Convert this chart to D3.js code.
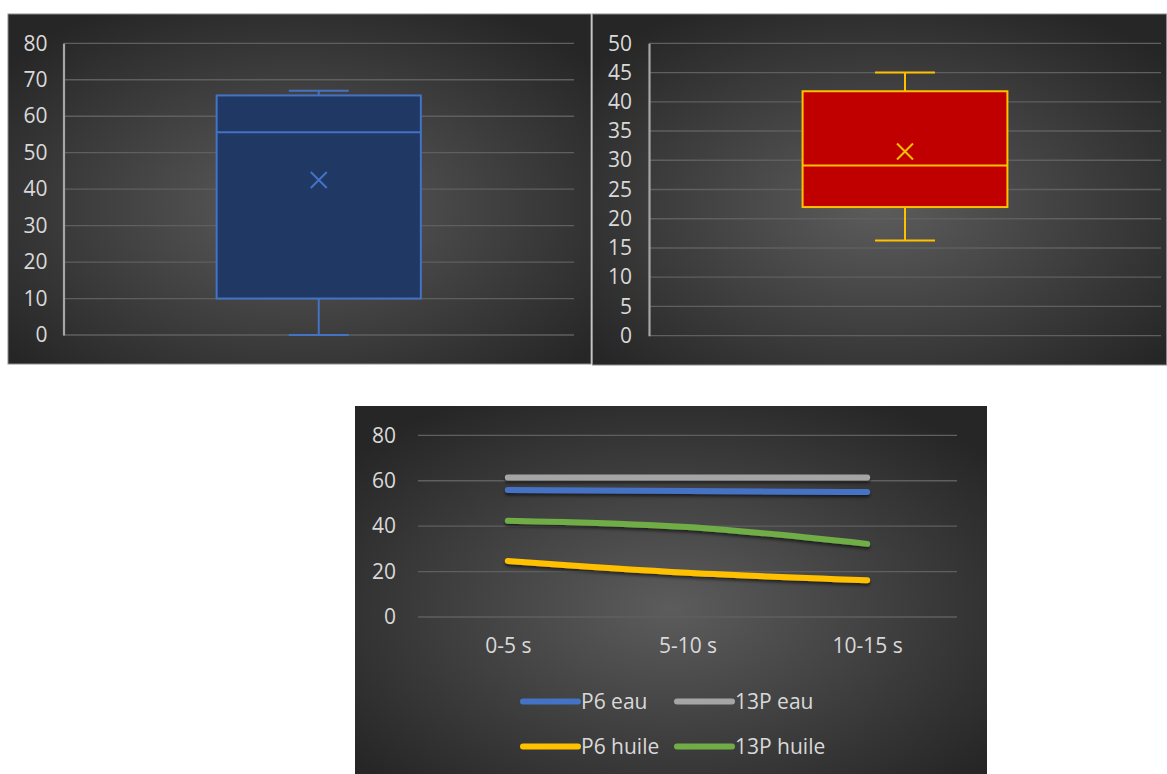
<!DOCTYPE html>
<html>
<head>
<meta charset="utf-8">
<script src="https://cdn.jsdelivr.net/npm/d3@7"></script>
<style>
  html, body { margin: 0; padding: 0; background: #ffffff; }
  svg { display: block; }
  text { font-family: "Open Sans", "Noto Sans", sans-serif; fill: #d9d9d9; }
</style>
</head>
<body>
<svg id="chart" width="1167" height="774"></svg>
<script>
// ---------- DATA ----------
// Box plot 1 (blue)
const box1Stats = { min: 0, q1: 10, median: 55.6, q3: 65.7, max: 67, mean: 42.5 };
const box1Ticks = [0, 10, 20, 30, 40, 50, 60, 70, 80];
// Box plot 2 (red)
const box2Stats = { min: 16.3, q1: 22, median: 29.1, q3: 41.8, max: 45, mean: 31.5 };
const box2Ticks = [0, 5, 10, 15, 20, 25, 30, 35, 40, 45, 50];
// Line chart
const lineCategories = ["0-5 s", "5-10 s", "10-15 s"];
const seriesNames = ["P6 eau", "13P eau", "P6 huile", "13P huile"];
const p6Eau = [55.9, 55.5, 55.0];
const p13Eau = [61.4, 61.4, 61.4];
const p6Huile = [24.7, 19.5, 16.2];
const p13Huile = [42.4, 39.6, 32.2];
const lineTicks = [0, 20, 40, 60, 80];

// ---------- SETUP ----------
const svg = d3.select("#chart");
const defs = svg.append("defs");

function addGradient(id) {
  const g = defs.append("radialGradient").attr("id", id)
    .attr("cx", "50%").attr("cy", "55%").attr("r", "65%");
  g.append("stop").attr("offset", "0%").attr("stop-color", "#5c5c5c");
  g.append("stop").attr("offset", "100%").attr("stop-color", "#262626");
}
addGradient("bg1"); addGradient("bg2"); addGradient("bg3");

const shadow = defs.append("filter").attr("id", "shadow")
  .attr("filterUnits", "userSpaceOnUse")
  .attr("x", 355).attr("y", 406).attr("width", 632).attr("height", 368);
shadow.append("feDropShadow").attr("dx", 0).attr("dy", 2.5).attr("stdDeviation", 1.5)
  .attr("flood-color", "#000").attr("flood-opacity", 0.55);

const fontSize = 21;

// ---------- BOX PLOT PANEL ----------
function boxPanel(opts) {
  const g = svg.append("g");
  g.append("rect").attr("x", opts.px).attr("y", opts.py).attr("width", opts.pw).attr("height", opts.ph)
    .attr("fill", `url(#${opts.grad})`).attr("stroke", "#8c8c8c").attr("stroke-width", 1);

  const y = d3.scaleLinear().domain(opts.domain).range([opts.y0, opts.y1]);
  const x = d3.scaleBand().domain(["A"]).range([opts.x0, opts.x1]);

  // gridlines
  g.append("g").selectAll("line").data(opts.ticks).join("line")
    .attr("x1", opts.x0).attr("x2", opts.x1)
    .attr("y1", d => y(d)).attr("y2", d => y(d))
    .attr("stroke", "#5f5f5f").attr("stroke-width", 1.3);

  // axis
  const axis = d3.axisLeft(y).tickValues(opts.ticks).tickSize(0).tickPadding(opts.tickPad);
  const ag = g.append("g").attr("transform", `translate(${opts.x0},0)`).call(axis);
  ag.select(".domain").attr("stroke", "#a6a6a6").attr("stroke-width", 2.2);
  ag.selectAll("text").style("font-size", fontSize + "px").attr("fill", "#d9d9d9")
    .attr("font-family", "Open Sans");

  const s = opts.stats;
  const cx = x("A") + x.bandwidth() / 2;
  const bw = x.bandwidth() * 0.4;
  const capW = 60;

  // whiskers
  g.append("line").attr("x1", cx).attr("x2", cx).attr("y1", y(s.max)).attr("y2", y(s.q3))
    .attr("stroke", opts.stroke).attr("stroke-width", 2);
  g.append("line").attr("x1", cx).attr("x2", cx).attr("y1", y(s.q1)).attr("y2", y(s.min))
    .attr("stroke", opts.stroke).attr("stroke-width", 2);
  [s.max, s.min].forEach(v => {
    g.append("line").attr("x1", cx - capW / 2).attr("x2", cx + capW / 2)
      .attr("y1", y(v)).attr("y2", y(v)).attr("stroke", opts.stroke).attr("stroke-width", 2);
  });
  // box
  g.append("rect").attr("x", cx - bw / 2).attr("y", y(s.q3))
    .attr("width", bw).attr("height", y(s.q1) - y(s.q3))
    .attr("fill", opts.fill).attr("stroke", opts.stroke).attr("stroke-width", 2);
  // median
  g.append("line").attr("x1", cx - bw / 2).attr("x2", cx + bw / 2)
    .attr("y1", y(s.median)).attr("y2", y(s.median))
    .attr("stroke", opts.stroke).attr("stroke-width", 2);
  // mean X
  const m = 8;
  const my = y(s.mean);
  g.append("path")
    .attr("d", `M${cx - m},${my - m}L${cx + m},${my + m}M${cx - m},${my + m}L${cx + m},${my - m}`)
    .attr("stroke", opts.stroke).attr("stroke-width", 2).attr("fill", "none");
}

boxPanel({
  px: 8, py: 14, pw: 583, ph: 350, grad: "bg1",
  domain: [0, 80], y0: 335, y1: 43.3, x0: 63.5, x1: 574,
  ticks: box1Ticks, tickPad: 16, stats: box1Stats,
  fill: "#203864", stroke: "#4472C4"
});

boxPanel({
  px: 592.5, py: 14, pw: 574, ph: 351, grad: "bg2",
  domain: [0, 50], y0: 335.7, y1: 43.3, x0: 649, x1: 1161,
  ticks: box2Ticks, tickPad: 17, stats: box2Stats,
  fill: "#C00000", stroke: "#FFC000"
});

// ---------- LINE CHART PANEL ----------
(function linePanel() {
  const g = svg.append("g");
  g.append("rect").attr("x", 355).attr("y", 406).attr("width", 632).attr("height", 368)
    .attr("fill", "url(#bg3)");

  const y = d3.scaleLinear().domain([0, 80]).range([617, 435.3]);
  const x = d3.scalePoint().domain(lineCategories).range([418, 957]).padding(0.5);

  g.append("g").selectAll("line").data(lineTicks).join("line")
    .attr("x1", 418).attr("x2", 957)
    .attr("y1", d => y(d)).attr("y2", d => y(d))
    .attr("stroke", "#5f5f5f").attr("stroke-width", 1.3);

  const ay = g.append("g").attr("transform", "translate(418,0)")
    .call(d3.axisLeft(y).tickValues(lineTicks).tickSize(0).tickPadding(22));
  ay.select(".domain").remove();
  ay.selectAll("text").style("font-size", fontSize + "px").attr("fill", "#d9d9d9")
    .attr("font-family", "Open Sans");

  const ax = g.append("g").attr("transform", "translate(0,617)")
    .call(d3.axisBottom(x).tickSize(0).tickPadding(21));
  ax.select(".domain").remove();
  ax.selectAll("text").style("font-size", fontSize + "px").attr("fill", "#d9d9d9")
    .attr("font-family", "Open Sans");

  const series = [
    { name: seriesNames[0], values: p6Eau, color: "#4472C4" },
    { name: seriesNames[1], values: p13Eau, color: "#A5A5A5" },
    { name: seriesNames[2], values: p6Huile, color: "#FFC000" },
    { name: seriesNames[3], values: p13Huile, color: "#70AD47" }
  ];

  const line = d3.line()
    .x((d, i) => x(lineCategories[i]))
    .y(d => y(d))
    .curve(d3.curveMonotoneX);

  g.append("g").selectAll("path").data(series).join("path")
    .attr("d", d => line(d.values))
    .attr("fill", "none")
    .attr("stroke", d => d.color)
    .attr("stroke-width", 6)
    .attr("stroke-linecap", "round")
    .attr("stroke-linejoin", "round")
    .attr("filter", "url(#shadow)");

  // legend
  const legendPos = [
    { lx: 523, ly: 701.5 }, { lx: 677, ly: 701.5 },
    { lx: 523, ly: 746.5 }, { lx: 677, ly: 746.5 }
  ];
  const lg = g.append("g");
  series.forEach((s, i) => {
    const p = legendPos[i];
    lg.append("line").attr("x1", p.lx).attr("x2", p.lx + 55)
      .attr("y1", p.ly).attr("y2", p.ly)
      .attr("stroke", s.color).attr("stroke-width", 6).attr("stroke-linecap", "round");
    lg.append("text").attr("x", p.lx + 58).attr("y", p.ly).attr("dy", "0.35em")
      .style("font-size", fontSize + "px").text(s.name);
  });
})();
</script>
</body>
</html>
